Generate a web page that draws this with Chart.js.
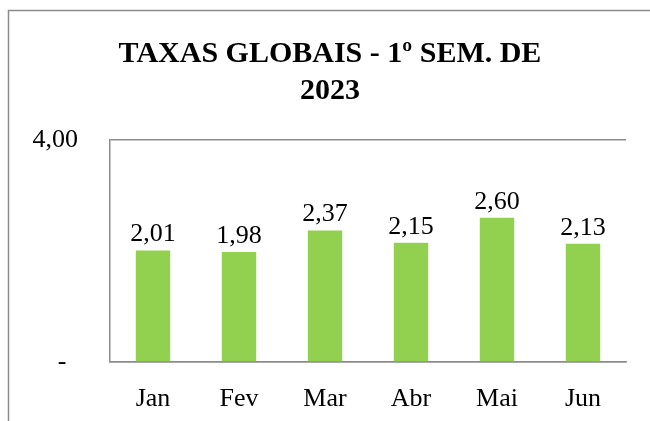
<!DOCTYPE html>
<html>
<head>
<meta charset="utf-8">
<script src="https://cdn.jsdelivr.net/npm/chart.js@4"></script>
<style>
  html, body { margin: 0; padding: 0; background: #fff; }
  #wrap { width: 650px; height: 421px; position: relative; }
</style>
</head>
<body>
<div id="wrap"><canvas id="taxasChart" width="650" height="421"></canvas></div>
<script>
// chart data
const months = ['Jan', 'Fev', 'Mar', 'Abr', 'Mai', 'Jun'];
const taxas = [2.01, 1.98, 2.37, 2.15, 2.60, 2.13];
const yTicks = [0, 4];
const titleLines = ['TAXAS GLOBAIS - 1º SEM. DE', '2023'];

const fmt = v => v.toFixed(2).replace('.', ',');
const labelFont = '26px "Liberation Serif"';

// outer frame + title
const framePlugin = {
    id: 'frame',
    beforeDraw(chart) {
        const ctx = chart.ctx;
        ctx.save();
        ctx.fillStyle = '#fff';
        ctx.fillRect(0, 0, chart.width, chart.height);
        ctx.strokeStyle = '#8c8c8c';
        ctx.lineWidth = 1.5;
        ctx.strokeRect(8.5, 10.5, 700, 500);
        ctx.fillStyle = '#000';
        ctx.font = 'bold 30px "Liberation Serif"';
        ctx.textAlign = 'center';
        ctx.textBaseline = 'alphabetic';
        ctx.fillText(titleLines[0], 330, 62);
        ctx.fillText(titleLines[1], 330, 99);
        ctx.restore();
    }
};

// value labels above bars
const valueLabels = {
    id: 'valueLabels',
    afterDatasetsDraw(chart) {
        const ctx = chart.ctx;
        const meta = chart.getDatasetMeta(0);
        ctx.save();
        ctx.font = labelFont;
        ctx.fillStyle = '#000';
        ctx.textAlign = 'center';
        ctx.textBaseline = 'alphabetic';
        meta.data.forEach((bar, i) => {
            ctx.fillText(fmt(taxas[i]), bar.x, bar.y - 9);
        });
        ctx.restore();
    }
};

new Chart(document.getElementById('taxasChart'), {
    type: 'bar',
    data: {
        labels: months,
        datasets: [{
            data: taxas,
            backgroundColor: '#92d050',
            categoryPercentage: 1.0,
            barPercentage: 0.4
        }]
    },
    options: {
        responsive: false,
        animation: false,
        layout: { padding: { left: 0, right: 24, top: 140, bottom: 10 } },
        plugins: {
            legend: { display: false },
            title: { display: false },
            tooltip: { enabled: false }
        },
        scales: {
            x: {
                grid: { display: false },
                border: { display: true, color: '#8c8c8c', width: 1.5 },
                ticks: { color: '#000', font: { family: 'Liberation Serif', size: 26 }, padding: 14 },
                afterFit: axis => { axis.height = 49; }
            },
            y: {
                min: 0,
                max: 4,
                afterBuildTicks: axis => { axis.ticks = yTicks.map(v => ({ value: v })); },
                afterFit: axis => { axis.width = 110; },
                grid: { color: '#8c8c8c', lineWidth: 1.5, drawTicks: false },
                border: { display: true, color: '#8c8c8c', width: 1.5 },
                ticks: {
                    color: '#000',
                    font: { family: 'Liberation Serif', size: 26 },
                    padding: 32,
                    callback: v => v === 0 ? '- \u2009' : fmt(v)
                }
            }
        }
    },
    plugins: [framePlugin, valueLabels]
});
</script>
</body>
</html>
